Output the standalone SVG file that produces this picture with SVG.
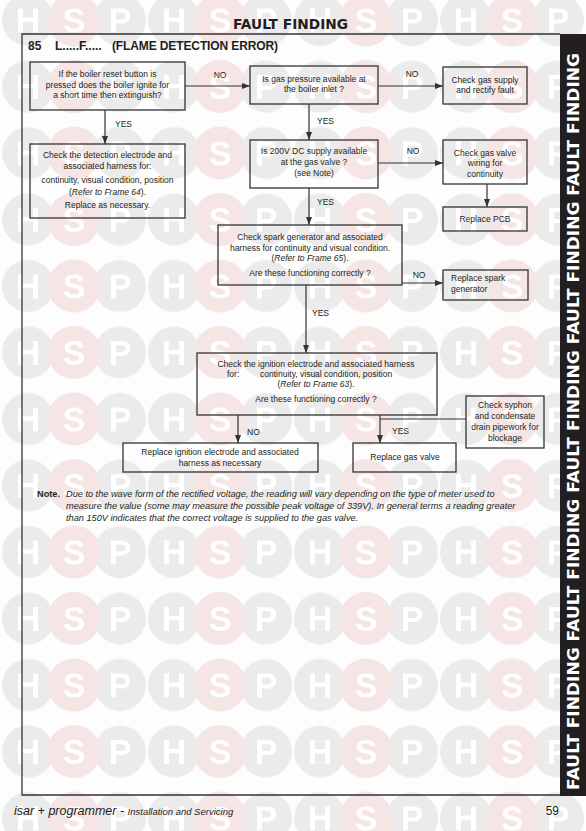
<svg xmlns="http://www.w3.org/2000/svg" width="586" height="831" viewBox="0 0 586 831">
<style>
.box{fill:none;stroke:#333;stroke-width:1.3}
.ln{fill:none;stroke:#333;stroke-width:1.2}
.t{font-family:"Liberation Sans",Arial,sans-serif;font-size:8.5px;fill:#231f20}
.c{text-anchor:middle}
.i{font-style:italic}
.lb{font-family:"Liberation Sans",Arial,sans-serif;font-size:8.5px;fill:#231f20}
.wm{font-family:"Liberation Sans",Arial,sans-serif;font-weight:bold;font-size:34px;fill:#ffffff;text-anchor:middle}
</style>
<defs>
<marker id="ah" markerUnits="userSpaceOnUse" markerWidth="8" markerHeight="6" refX="8" refY="3" orient="auto">
<path d="M0,0 L8,3 L0,6 z" fill="#333"/>
</marker>
<pattern id="hsp" patternUnits="userSpaceOnUse" x="1" y="-13.25" width="146" height="66.5">
<circle cx="27" cy="33.25" r="26" fill="#ebebeb"/>
<circle cx="119" cy="33.25" r="26" fill="#ebebeb"/>
<circle cx="73" cy="33.25" r="26.5" fill="#f5e5e5"/>
<text class="wm" x="27" y="45.5">H</text>
<text class="wm" x="73" y="45.5">S</text>
<text class="wm" x="119" y="45.5">P</text>
</pattern>
</defs>
<rect width="586" height="831" fill="#fdfdfd"/>
<g id="watermark"><rect width="586" height="831" fill="url(#hsp)"/></g>

<g id="page">
<text x="233" y="29" font-family="DejaVu Sans,sans-serif" font-weight="bold" font-size="13.2" fill="#231f20" textLength="115" lengthAdjust="spacingAndGlyphs">FAULT FINDING</text>
<path d="M560,34 H22 V795 H560" class="box"/>
<rect x="560" y="34" width="26" height="762" fill="#231f20"/>
<text transform="translate(579,790) rotate(-90)" font-family="DejaVu Sans,sans-serif" font-weight="bold" font-size="16.4" fill="#ffffff" textLength="737" lengthAdjust="spacingAndGlyphs">FAULT FINDING FAULT FINDING FAULT FINDING FAULT FINDING FAULT FINDING</text>
<g font-family="Liberation Sans,Arial,sans-serif" font-weight="bold" font-size="12" fill="#231f20">
<text x="28" y="50">85</text>
<text x="55" y="50">L.....F.....</text>
<text x="112" y="50" textLength="166">(FLAME DETECTION ERROR)</text>
</g>
<g id="note" font-family="Liberation Sans,Arial,sans-serif" font-size="9.2" fill="#231f20">
<text x="37" y="497" font-weight="bold">Note.</text>
<text x="66" y="497" font-style="italic">Due to the wave form of the rectified voltage, the reading will vary depending on the type of meter used to</text>
<text x="66" y="509" font-style="italic">measure the value (some may measure the possible peak voltage of 339V). In general terms a reading greater</text>
<text x="66" y="521" font-style="italic">than 150V indicates that the correct voltage is supplied to the gas valve.</text>
</g>
<g id="footer" font-family="Liberation Sans,Arial,sans-serif" fill="#231f20">
<text x="14" y="815" font-style="italic" font-size="12.5">isar + programmer - <tspan font-size="9.5">Installation and Servicing</tspan></text>
<text x="559" y="815" font-size="12" text-anchor="end">59</text>
</g>
</g>

<g id="connectors">
<line class="ln" x1="185" y1="86" x2="250" y2="86" marker-end="url(#ah)"/>
<line class="ln" x1="378" y1="86" x2="443" y2="86" marker-end="url(#ah)"/>
<line class="ln" x1="105" y1="110" x2="105" y2="144" marker-end="url(#ah)"/>
<line class="ln" x1="309" y1="104" x2="309" y2="140" marker-end="url(#ah)"/>
<line class="ln" x1="378" y1="163" x2="443" y2="163" marker-end="url(#ah)"/>
<line class="ln" x1="487" y1="184" x2="487" y2="207" marker-end="url(#ah)"/>
<line class="ln" x1="309" y1="188" x2="309" y2="225" marker-end="url(#ah)"/>
<line class="ln" x1="402" y1="283" x2="443" y2="283" marker-end="url(#ah)"/>
<line class="ln" x1="306" y1="285" x2="306" y2="353" marker-end="url(#ah)"/>
<line class="ln" x1="238" y1="415" x2="238" y2="443" marker-end="url(#ah)"/>
<line class="ln" x1="380" y1="415" x2="380" y2="443" marker-end="url(#ah)"/>
<line class="ln" x1="380" y1="419" x2="466" y2="419"/>
<text class="lb c" x="220" y="78">NO</text>
<text class="lb c" x="412" y="77">NO</text>
<text class="lb" x="115" y="127">YES</text>
<text class="lb" x="317" y="124">YES</text>
<text class="lb c" x="413" y="154">NO</text>
<text class="lb" x="317" y="205">YES</text>
<text class="lb c" x="419" y="278">NO</text>
<text class="lb" x="312" y="316">YES</text>
<text class="lb" x="247" y="435">NO</text>
<text class="lb" x="392" y="434">YES</text>
</g>

<g id="n1">
<rect class="box" x="30" y="62" width="155" height="48"/>
<text class="t c" x="107.5" y="77">If the boiler reset button is</text>
<text class="t c" x="107.5" y="88">pressed does the boiler ignite for</text>
<text class="t c" x="107.5" y="98">a short time then extinguish?</text>
</g>
<g id="n2">
<rect class="box" x="30" y="144" width="155" height="74"/>
<text class="t c" x="107.5" y="158">Check the detection electrode and</text>
<text class="t c" x="107.5" y="169">associated harness for:</text>
<text class="t c" x="107.5" y="183">continuity, visual condition, position</text>
<text class="t c" x="107.5" y="195">(<tspan class="i">Refer to Frame 64</tspan>).</text>
<text class="t c" x="107.5" y="208">Replace as necessary.</text>
</g>
<g id="n3">
<rect class="box" x="250" y="66" width="128" height="38"/>
<text class="t c" x="314" y="82">Is gas pressure available at</text>
<text class="t c" x="314" y="92">the boiler inlet ?</text>
</g>
<g id="n4">
<rect class="box" x="443" y="67" width="84" height="37"/>
<text class="t c" x="485" y="83">Check gas supply</text>
<text class="t c" x="485" y="93">and rectify fault</text>
</g>
<g id="n5">
<rect class="box" x="250" y="140" width="128" height="48"/>
<text class="t c" x="314" y="154">Is 200V DC supply available</text>
<text class="t c" x="314" y="165">at the gas valve ?</text>
<text class="t c" x="314" y="176">(see Note)</text>
</g>
<g id="n6">
<rect class="box" x="443" y="140" width="84" height="44"/>
<text class="t c" x="485" y="156">Check gas valve</text>
<text class="t c" x="485" y="166">wiring for</text>
<text class="t c" x="485" y="177">continuity</text>
</g>
<g id="n7">
<rect class="box" x="443" y="207" width="84" height="24"/>
<text class="t c" x="485" y="222">Replace PCB</text>
</g>
<g id="n8">
<rect class="box" x="218" y="225" width="184" height="60"/>
<text class="t c" x="310" y="240">Check spark generator and associated</text>
<text class="t c" x="310" y="251">harness for continuity and visual condition.</text>
<text class="t c" x="310" y="261">(<tspan class="i">Refer to Frame 65</tspan>).</text>
<text class="t c" x="310" y="276">Are these functioning correctly ?</text>
</g>
<g id="n9">
<rect class="box" x="443" y="270" width="85" height="30"/>
<text class="t" x="451" y="281">Replace spark</text>
<text class="t" x="451" y="292">generator</text>
</g>
<g id="n10">
<rect class="box" x="197" y="353" width="240" height="62"/>
<text class="t c" x="316" y="367">Check the ignition electrode and associated harness</text>
<text class="t" x="227" y="377">for:</text>
<text class="t" x="260" y="377">continuity, visual condition, position</text>
<text class="t c" x="316" y="387">(<tspan class="i">Refer to Frame 63</tspan>).</text>
<text class="t c" x="316" y="402">Are these functioning correctly ?</text>
</g>
<g id="n11">
<rect class="box" x="466" y="396" width="78" height="52"/>
<text class="t c" x="505" y="408">Check syphon</text>
<text class="t c" x="505" y="419">and condensate</text>
<text class="t c" x="505" y="430">drain pipework for</text>
<text class="t c" x="505" y="441">blockage</text>
</g>
<g id="n12">
<rect class="box" x="123" y="443" width="195" height="29"/>
<text class="t c" x="220" y="455">Replace ignition electrode and associated</text>
<text class="t c" x="220" y="466">harness as necessary</text>
</g>
<g id="n13">
<rect class="box" x="353" y="443" width="103" height="29"/>
<text class="t c" x="405" y="460">Replace gas valve</text>
</g>
</svg>
